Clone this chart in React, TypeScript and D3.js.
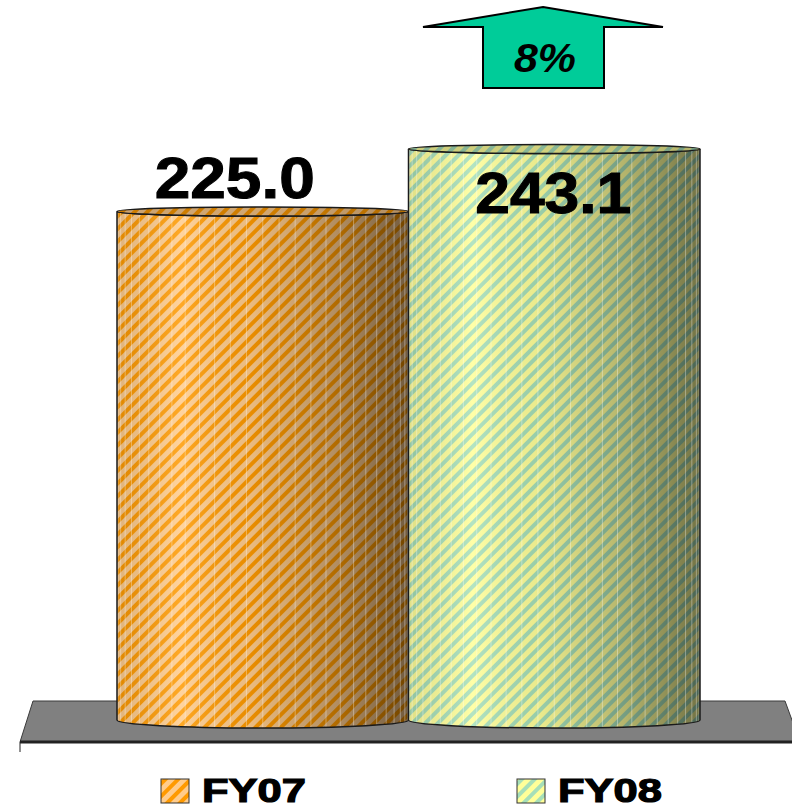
import React from "react";
import * as d3 from "d3";

const categories = ["FY07", "FY08"];
const values = [225.0, 243.1];
const growthLabel = "8%";

const W = 792;
const H = 809;

const palettes = [
  { base: "#ffcc8c", stripe: "#ff9a00" },
  { base: "#ffff99", stripe: "#a6dfb8" },
];

const labelLayout = [
  { dx: -28, dy: -13, len: 160 },
  { dx: -1, dy: 64, len: 156 },
];

export default function App() {
  const x = d3.scaleBand<string>().domain(categories).range([117, 700]).paddingInner(0);
  const y = d3.scaleLinear().domain([77.7, 243.1]).range([720, 149]);
  const bw = x.bandwidth();
  const rx = bw / 2;
  const ryT = 4.5;
  const ryB = 8;
  const nFacets = 28;
  const facetAngles = d3.range(1, nFacets).map((i) => (i * Math.PI) / nFacets);

  const font = "'Liberation Sans', Arial, sans-serif";
  const legendX = [161, 517];

  return (
    <svg
      width={W}
      height={H}
      style={{ position: "absolute", left: 0, top: 0, background: "#fff" }}
    >
      <defs>
        {palettes.map((p, i) => (
          <pattern
            key={i}
            id={`stripe${i}`}
            patternUnits="userSpaceOnUse"
            width={9}
            height={9}
            patternTransform="rotate(45)"
          >
            <rect width={9} height={9} fill={p.base} />
            <rect width={4} height={9} fill={p.stripe} />
          </pattern>
        ))}
        <linearGradient id="shade" x1="0" x2="1" y1="0" y2="0">
          <stop offset="0" stopColor="#000" stopOpacity={0.12} />
          <stop offset="0.22" stopColor="#fff" stopOpacity={0.15} />
          <stop offset="0.45" stopColor="#000" stopOpacity={0.08} />
          <stop offset="0.75" stopColor="#000" stopOpacity={0.3} />
          <stop offset="1" stopColor="#000" stopOpacity={0.55} />
        </linearGradient>
        <linearGradient id="shadeTop" x1="0" x2="1" y1="0" y2="0">
          <stop offset="0" stopColor="#000" stopOpacity={0.2} />
          <stop offset="0.5" stopColor="#000" stopOpacity={0.18} />
          <stop offset="1" stopColor="#000" stopOpacity={0.3} />
        </linearGradient>
        {categories.map((c, i) => {
          const x0 = x(c)!;
          const x1 = x0 + bw;
          const yt = y(values[i]);
          const yb = y.range()[0];
          return (
            <clipPath key={c} id={`clip${i}`}>
              <path
                d={`M${x0},${yt} L${x0},${yb} A${rx},${ryB} 0 0 0 ${x1},${yb} L${x1},${yt} A${rx},${ryT} 0 0 1 ${x0},${yt} Z`}
              />
            </clipPath>
          );
        })}
      </defs>

      {/* floor */}
      <polygon points="33,701 785,701 800,742 20,742" fill="#808080" stroke="#3a3a3a" strokeWidth={1} />
      <line x1={20} y1={742} x2={792} y2={742} stroke="#222" strokeWidth={3} />
      <line x1={20} y1={742} x2={20} y2={752} stroke="#222" strokeWidth={1} />

      {/* cylinders */}
      {categories.map((c, i) => {
        const x0 = x(c)!;
        const x1 = x0 + bw;
        const cx = x0 + rx;
        const yt = y(values[i]);
        const yb = y.range()[0];
        const side = `M${x0},${yt} L${x0},${yb} A${rx},${ryB} 0 0 0 ${x1},${yb} L${x1},${yt} A${rx},${ryT} 0 0 1 ${x0},${yt} Z`;
        return (
          <g key={c}>
            <path d={side} fill={`url(#stripe${i})`} />
            <path d={side} fill="url(#shade)" />
            <g clipPath={`url(#clip${i})`}>
              {facetAngles.map((a, k) => {
                const fx = cx - rx * Math.cos(a);
                return (
                  <line
                    key={k}
                    x1={fx}
                    x2={fx}
                    y1={yt}
                    y2={yb + ryB}
                    stroke="#fff"
                    strokeOpacity={0.35}
                    strokeWidth={1}
                  />
                );
              })}
            </g>
            <path d={side} fill="none" stroke="#1a1a1a" strokeWidth={1.5} />
            <ellipse cx={cx} cy={yt} rx={rx} ry={ryT} fill={`url(#stripe${i})`} />
            <ellipse cx={cx} cy={yt} rx={rx} ry={ryT} fill="url(#shadeTop)" stroke="#1a1a1a" strokeWidth={1.5} />
          </g>
        );
      })}

      {/* value labels */}
      {categories.map((c, i) => (
        <text
          key={c}
          x={x(c)! + bw / 2 + labelLayout[i].dx}
          y={y(values[i]) + labelLayout[i].dy}
          textAnchor="middle"
          fontFamily={font}
          fontWeight="bold"
          fontSize={57}
          textLength={labelLayout[i].len}
          lengthAdjust="spacingAndGlyphs"
          fill="#000"
          stroke="#000"
          strokeWidth={1}
        >
          {values[i].toFixed(1)}
        </text>
      ))}

      {/* growth arrow */}
      <polygon
        points="543,7 663,27 604,27 604,88 483,88 483,27 423,27"
        fill="#00cc99"
        stroke="#000"
        strokeWidth={2}
        strokeLinejoin="miter"
      />
      <text
        x={545}
        y={72}
        textAnchor="middle"
        fontFamily={font}
        fontWeight="bold"
        fontStyle="italic"
        fontSize={40}
        textLength={62}
        lengthAdjust="spacingAndGlyphs"
        fill="#000"
      >
        {growthLabel}
      </text>

      {/* legend */}
      {categories.map((c, i) => {
        const lx = legendX[i];
        return (
          <g key={c}>
            <rect x={lx} y={779} width={28} height={24} fill={`url(#stripe${i})`} stroke="#333" strokeWidth={1} />
            <text
              x={lx + 41}
              y={802}
              fontFamily={font}
              fontWeight="bold"
              fontSize={34}
              textLength={104}
              lengthAdjust="spacingAndGlyphs"
              fill="#000"
              stroke="#000"
              strokeWidth={1.2}
            >
              {c}
            </text>
          </g>
        );
      })}
    </svg>
  );
}
